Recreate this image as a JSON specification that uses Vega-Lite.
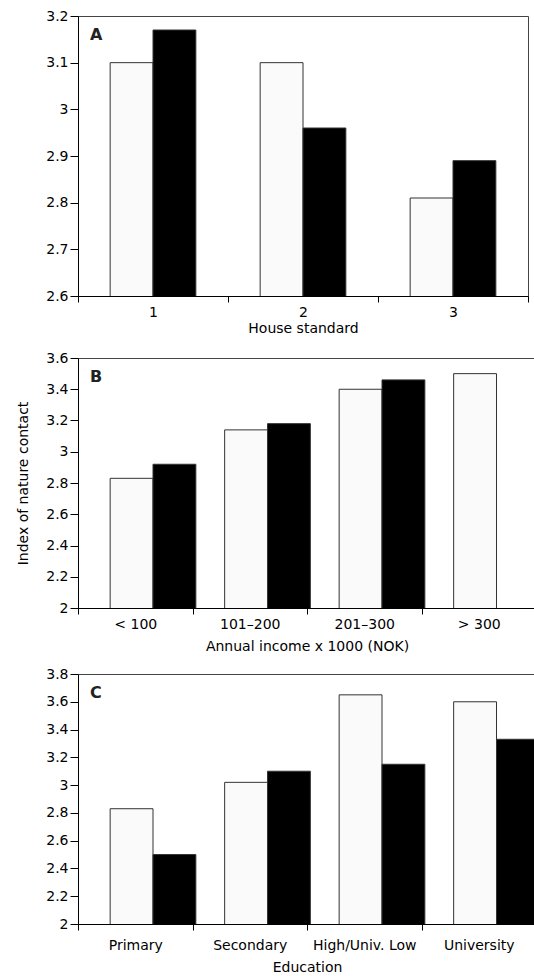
{
  "$schema": "https://vega.github.io/schema/vega-lite/v6.json",
  "padding": {"left": 16, "top": 8, "right": 0, "bottom": 0},
  "spacing": 62,
  "bounds": "flush",
  "background": "white",
  "config": {
    "font": "DejaVu Sans",
    "view": {"stroke": "#444", "strokeWidth": 1},
    "axis": {
      "domainColor": "#000", "tickColor": "#000", "labelColor": "#000", "titleColor": "#000",
      "labelFontSize": 14, "titleFontSize": 14, "titleFontWeight": "normal", "grid": false,
      "labelFont": "DejaVu Sans", "titleFont": "DejaVu Sans"
    },
    "axisX": {"tickSize": 6, "labelPadding": 3, "labelAngle": 0, "tickBand": "extent", "titlePadding": 2},
    "axisY": {"tickSize": 8, "labelPadding": 2, "format": "~g", "labelOverlap": false}
  },
  "datasets": {
    "house": [
      {"category": "1", "group": "white", "value": 3.10},
      {"category": "1", "group": "black", "value": 3.17},
      {"category": "2", "group": "white", "value": 3.10},
      {"category": "2", "group": "black", "value": 2.96},
      {"category": "3", "group": "white", "value": 2.81},
      {"category": "3", "group": "black", "value": 2.89}
    ],
    "income": [
      {"category": "< 100", "group": "white", "value": 2.83},
      {"category": "< 100", "group": "black", "value": 2.92},
      {"category": "101–200", "group": "white", "value": 3.14},
      {"category": "101–200", "group": "black", "value": 3.18},
      {"category": "201–300", "group": "white", "value": 3.40},
      {"category": "201–300", "group": "black", "value": 3.46},
      {"category": "> 300", "group": "white", "value": 3.50}
    ],
    "education": [
      {"category": "Primary", "group": "white", "value": 2.83},
      {"category": "Primary", "group": "black", "value": 2.50},
      {"category": "Secondary", "group": "white", "value": 3.02},
      {"category": "Secondary", "group": "black", "value": 3.10},
      {"category": "High/Univ. Low", "group": "white", "value": 3.65},
      {"category": "High/Univ. Low", "group": "black", "value": 3.15},
      {"category": "University", "group": "white", "value": 3.60},
      {"category": "University", "group": "black", "value": 3.33}
    ]
  },
  "vconcat": [
    {
      "width": 450, "height": 280,
      "layer": [
        {
          "data": {"name": "house"},
          "mark": {"type": "bar", "stroke": "#333", "strokeWidth": 1, "clip": true},
          "encoding": {
            "x": {"field": "category", "type": "nominal", "scale": {"domain": ["1", "2", "3"], "paddingInner": 0, "paddingOuter": 0}, "axis": {"title": "House standard", "titlePadding": 2}},
            "xOffset": {"field": "group", "type": "nominal", "scale": {"domain": ["white", "black"], "paddingInner": 0, "paddingOuter": 0.75}},
            "y": {"field": "value", "type": "quantitative", "scale": {"domain": [2.6, 3.2], "zero": false, "nice": false}, "axis": {"title": null, "labelOverlap": false, "values": [2.6, 2.7, 2.8, 2.9, 3.0, 3.1, 3.2]}},
            "color": {"field": "group", "type": "nominal", "scale": {"domain": ["white", "black"], "range": ["#fafafa", "#000000"]}, "legend": null}
          }
        },
        {
          "data": {"values": [{"panel": "A"}]},
          "mark": {"type": "text", "fontWeight": "bold", "fontSize": 16, "align": "left", "baseline": "top", "dx": 12, "dy": 11, "color": "#222"},
          "encoding": {
            "x": {"datum": "1", "type": "nominal", "bandPosition": 0},
            "y": {"datum": 3.2, "type": "quantitative", "axis": {"title": null, "labelOverlap": false, "values": [2.6, 2.7, 2.8, 2.9, 3.0, 3.1, 3.2]}},
            "text": {"field": "panel"}
          }
        }
      ]
    },
    {
      "spacing": 66,
      "bounds": "flush",
      "vconcat": [
        {
          "width": 458, "height": 250,
          "layer": [
            {
              "data": {"name": "income"},
              "mark": {"type": "bar", "stroke": "#333", "strokeWidth": 1, "clip": true},
              "encoding": {
                "x": {"field": "category", "type": "nominal", "scale": {"domain": ["< 100", "101–200", "201–300", "> 300"], "paddingInner": 0, "paddingOuter": 0}, "axis": {"title": "Annual income x 1000 (NOK)", "titlePadding": 8}},
                "xOffset": {"field": "group", "type": "nominal", "scale": {"domain": ["white", "black"], "paddingInner": 0, "paddingOuter": 0.75}},
                "y": {"field": "value", "type": "quantitative", "scale": {"domain": [2, 3.6], "zero": false, "nice": false}, "axis": {"title": "Index of nature contact", "titlePadding": 15, "labelOverlap": false, "values": [2, 2.2, 2.4, 2.6, 2.8, 3.0, 3.2, 3.4, 3.6]}},
                "color": {"field": "group", "type": "nominal", "scale": {"domain": ["white", "black"], "range": ["#fafafa", "#000000"]}, "legend": null}
              }
            },
            {
              "data": {"values": [{"panel": "B"}]},
              "mark": {"type": "text", "fontWeight": "bold", "fontSize": 16, "align": "left", "baseline": "top", "dx": 12, "dy": 11, "color": "#222"},
              "encoding": {
                "x": {"datum": "< 100", "type": "nominal", "bandPosition": 0},
                "y": {"datum": 3.6, "type": "quantitative", "axis": {"title": "Index of nature contact", "titlePadding": 15, "labelOverlap": false, "values": [2, 2.2, 2.4, 2.6, 2.8, 3.0, 3.2, 3.4, 3.6]}},
                "text": {"field": "panel"}
              }
            }
          ]
        },
        {
          "width": 458, "height": 250,
          "layer": [
            {
              "data": {"name": "education"},
              "mark": {"type": "bar", "stroke": "#333", "strokeWidth": 1, "clip": true},
              "encoding": {
                "x": {"field": "category", "type": "nominal", "scale": {"domain": ["Primary", "Secondary", "High/Univ. Low", "University"], "paddingInner": 0, "paddingOuter": 0}, "axis": {"title": "Education", "labelPadding": 8, "titlePadding": 8}},
                "xOffset": {"field": "group", "type": "nominal", "scale": {"domain": ["white", "black"], "paddingInner": 0, "paddingOuter": 0.75}},
                "y": {"field": "value", "type": "quantitative", "scale": {"domain": [2, 3.8], "zero": false, "nice": false}, "axis": {"title": null, "labelOverlap": false, "values": [2, 2.2, 2.4, 2.6, 2.8, 3.0, 3.2, 3.4, 3.6, 3.8]}},
                "color": {"field": "group", "type": "nominal", "scale": {"domain": ["white", "black"], "range": ["#fafafa", "#000000"]}, "legend": null}
              }
            },
            {
              "data": {"values": [{"panel": "C"}]},
              "mark": {"type": "text", "fontWeight": "bold", "fontSize": 16, "align": "left", "baseline": "top", "dx": 12, "dy": 11, "color": "#222"},
              "encoding": {
                "x": {"datum": "Primary", "type": "nominal", "bandPosition": 0},
                "y": {"datum": 3.8, "type": "quantitative", "axis": {"title": null, "labelOverlap": false, "values": [2, 2.2, 2.4, 2.6, 2.8, 3.0, 3.2, 3.4, 3.6, 3.8]}},
                "text": {"field": "panel"}
              }
            }
          ]
        }
      ]
    }
  ]
}
